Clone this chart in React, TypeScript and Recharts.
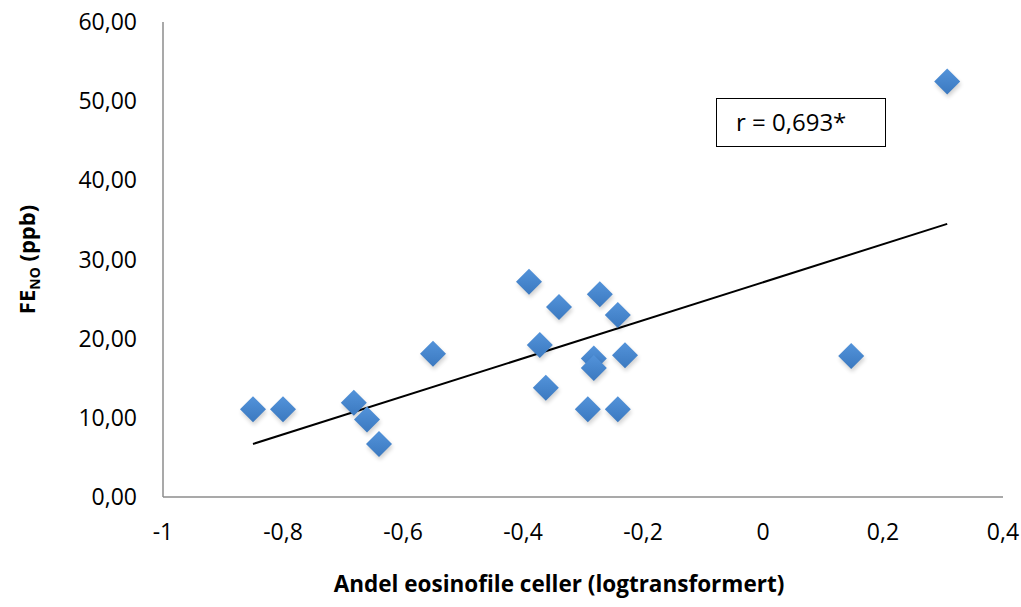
import React from "react";
import {
  ScatterChart,
  Scatter,
  XAxis,
  YAxis,
} from "recharts";

const EOS_LOG = [
  -0.85, -0.8, -0.682, -0.66, -0.64, -0.55, -0.39, -0.372, -0.362, -0.34,
  -0.292, -0.282, -0.282, -0.272, -0.242, -0.242, -0.23, 0.147, 0.307,
];
const FENO = [
  11.1, 11.1, 11.9, 9.8, 6.7, 18.1, 27.2, 19.2, 13.8, 24.0,
  11.1, 17.5, 16.3, 25.6, 23.0, 11.1, 17.9, 17.8, 52.5,
];
const TREND_X = [-0.85, 0.307];
const TREND_Y = [6.7, 34.5];
const X_TICKS = [-1, -0.8, -0.6, -0.4, -0.2, 0, 0.2, 0.4];
const Y_TICKS = [0, 10, 20, 30, 40, 50, 60];

const points = EOS_LOG.map((x, i) => ({ x, y: FENO[i] }));
const trend = TREND_X.map((x, i) => ({ x, y: TREND_Y[i] }));

const FONT = "'Open Sans', sans-serif";

const fmtX = (v: number) => (v === 0 || v === -1 ? String(v) : v.toFixed(1).replace(".", ","));
const fmtY = (v: number) => v.toFixed(2).replace(".", ",");

// square diamond with a soft shadow, like the Excel marker
const Diamond = (props: any) => {
  const { cx, cy } = props;
  const r = 13;
  const d = `M${cx},${cy - r} L${cx + r},${cy} L${cx},${cy + r} L${cx - r},${cy} Z`;
  return (
    <g>
      <path d={d} transform="translate(1,3)" fill="#000" opacity={0.18} filter="url(#blur)" />
      <path d={d} fill="url(#dia)" />
    </g>
  );
};

export default function App() {
  return (
    <div style={{ position: "absolute", left: 0, top: 0, width: 1021, height: 607, background: "#fff" }}>
      <ScatterChart width={1021} height={607} margin={{ top: 22, right: 18, bottom: 70, left: 83 }}>
        <defs>
          <linearGradient id="dia" x1="0" y1="0" x2="0" y2="1">
            <stop offset="0%" stopColor="#5393DA" />
            <stop offset="100%" stopColor="#3B79C0" />
          </linearGradient>
          <filter id="blur" x="-50%" y="-50%" width="200%" height="200%">
            <feGaussianBlur stdDeviation="2" />
          </filter>
        </defs>
        <XAxis
          type="number"
          dataKey="x"
          domain={[-1, 0.4]}
          ticks={X_TICKS}
          tickFormatter={fmtX}
          height={40}
          stroke="#8c8c8c"
          strokeWidth={1.5}
          tickLine={false}
          tickSize={0}
          tickMargin={27}
          tick={{ fill: "#000", fontSize: 23, fontFamily: FONT }}
          label={{
            content: ({ viewBox }: any) => (
              <text
                x={viewBox.x + viewBox.width / 2 - 24}
                y={592}
                textAnchor="middle"
                fontFamily={FONT}
                fontWeight="bold"
                fontSize={22.5}
                fill="#000"
              >
                Andel eosinofile celler (logtransformert)
              </text>
            ),
          }}
        />
        <YAxis
          type="number"
          dataKey="y"
          domain={[0, 60]}
          ticks={Y_TICKS}
          tickFormatter={fmtY}
          width={80}
          stroke="#8c8c8c"
          strokeWidth={1.5}
          tickLine={false}
          tickSize={0}
          tickMargin={26}
          tick={{ fill: "#000", fontSize: 23, fontFamily: FONT }}
          label={{
            content: ({ viewBox }: any) => {
              const cy = viewBox.y + viewBox.height / 2;
              return (
                <text
                  transform={`translate(35, ${cy}) rotate(-90)`}
                  textAnchor="middle"
                  fontFamily={FONT}
                  fontWeight="bold"
                  fontSize={22}
                  fill="#000"
                >
                  FE
                  <tspan fontSize={14} dy={5}>NO</tspan>
                  <tspan dy={-5}> (ppb)</tspan>
                </text>
              );
            },
          }}
        />
        <Scatter
          data={trend}
          line={{ stroke: "#000", strokeWidth: 2 }}
          shape={() => <g />}
          isAnimationActive={false}
        />
        <Scatter data={points} shape={<Diamond />} isAnimationActive={false} />
      </ScatterChart>
      <div
        style={{
          position: "absolute",
          left: 716,
          top: 98,
          width: 170,
          height: 49,
          border: "1.5px solid #000",
          fontFamily: FONT,
          fontSize: 24,
          lineHeight: "46px",
          paddingLeft: 19,
          boxSizing: "border-box",
          color: "#000",
          background: "#fff",
        }}
      >
        r = 0,693*
      </div>
    </div>
  );
}
